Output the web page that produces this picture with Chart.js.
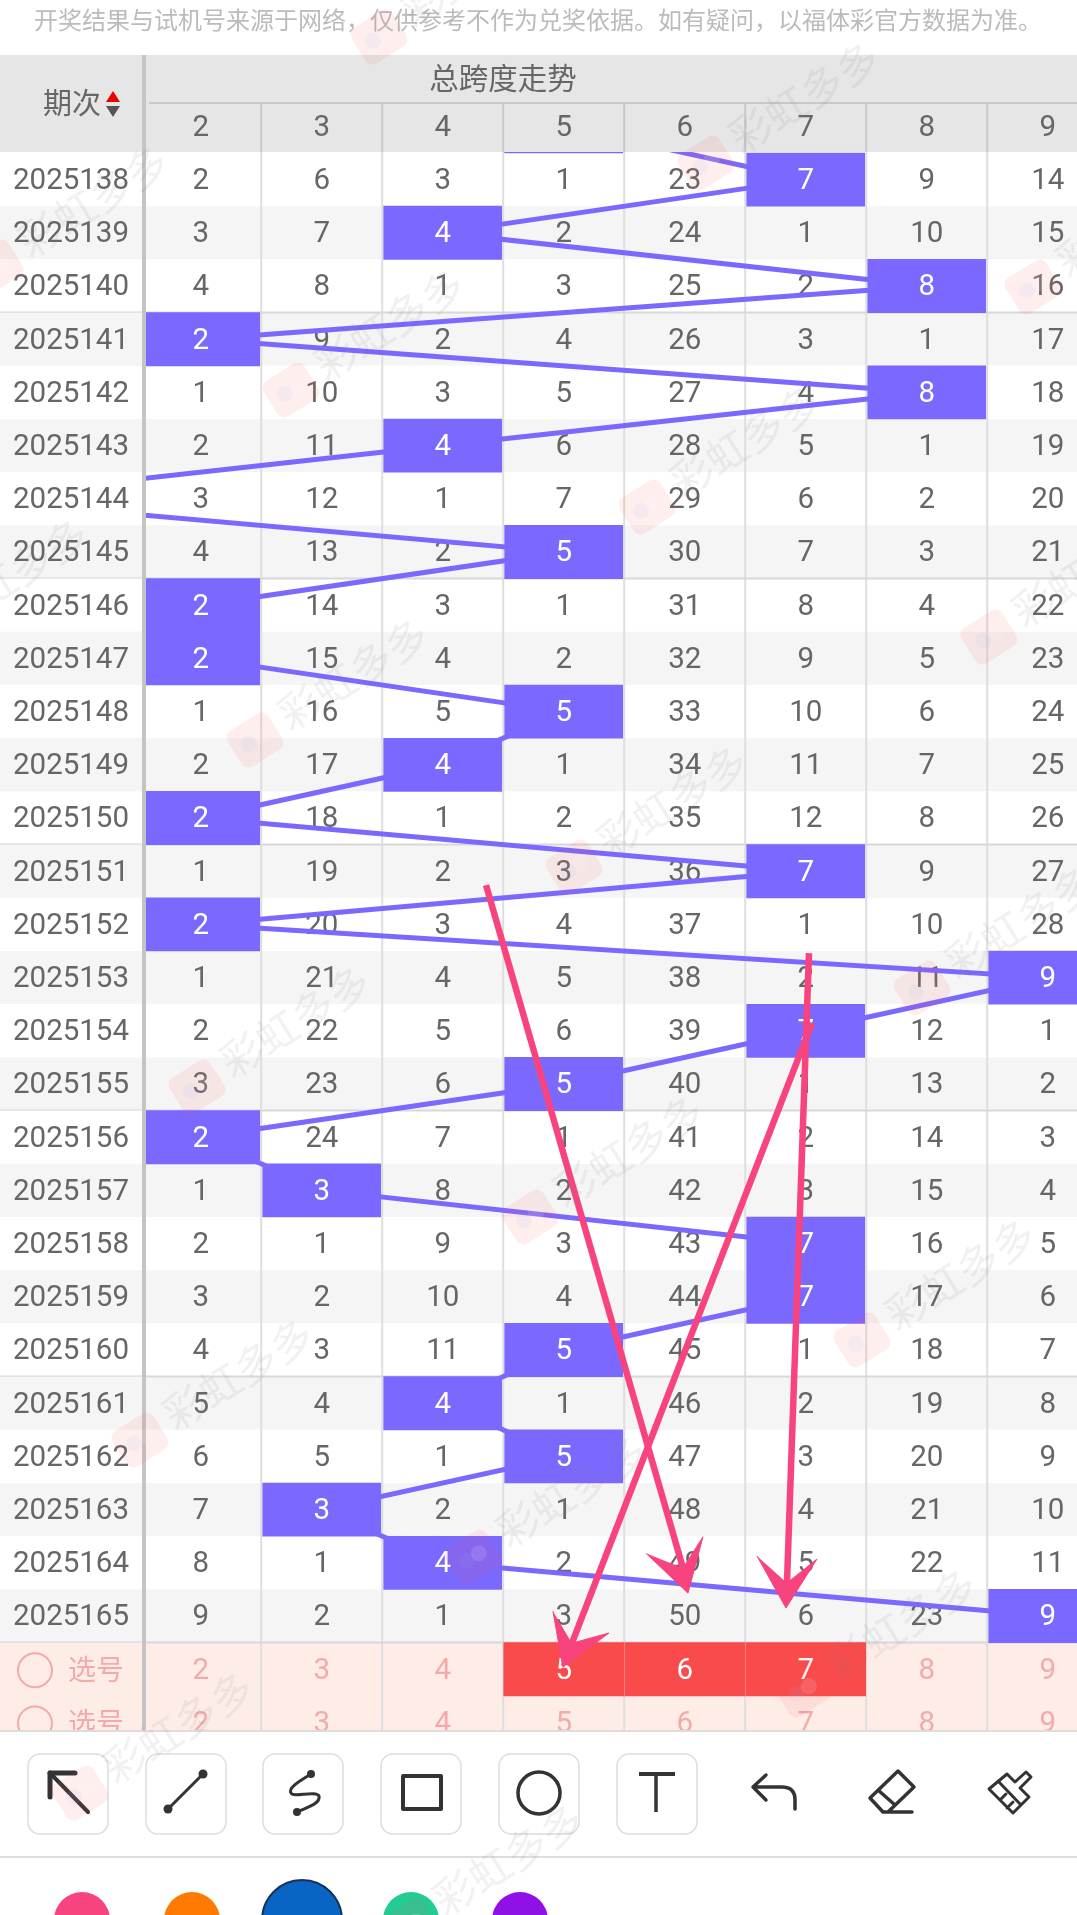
<!DOCTYPE html>
<html>
<head>
<meta charset="utf-8">
<title>总跨度走势</title>
<script src="https://cdn.jsdelivr.net/npm/chart.js@4/dist/chart.umd.min.js"></script>
<style>
  html, body { margin: 0; padding: 0; background: #fff; }
  canvas { display: block; }
</style>
</head>
<body>
<canvas id="trend" width="1077" height="1915"></canvas>
<script>
// Data
const notice = '开奖结果与试机号来源于网络，仅供参考不作为兑奖依据。如有疑问，以福体彩官方数据为准。';
const title = '总跨度走势';
const spans = [2, 3, 4, 5, 6, 7, 8, 9];
const periods = [2025138, 2025139, 2025140, 2025141, 2025142, 2025143, 2025144, 2025145, 2025146, 2025147,
  2025148, 2025149, 2025150, 2025151, 2025152, 2025153, 2025154, 2025155, 2025156, 2025157,
  2025158, 2025159, 2025160, 2025161, 2025162, 2025163, 2025164, 2025165];
const missing2 = [2, 3, 4, 2, 1, 2, 3, 4, 2, 2, 1, 2, 2, 1, 2, 1, 2, 3, 2, 1, 2, 3, 4, 5, 6, 7, 8, 9];
const missing3 = [6, 7, 8, 9, 10, 11, 12, 13, 14, 15, 16, 17, 18, 19, 20, 21, 22, 23, 24, 3, 1, 2, 3, 4, 5, 3, 1, 2];
const missing4 = [3, 4, 1, 2, 3, 4, 1, 2, 3, 4, 5, 4, 1, 2, 3, 4, 5, 6, 7, 8, 9, 10, 11, 4, 1, 2, 4, 1];
const missing5 = [1, 2, 3, 4, 5, 6, 7, 5, 1, 2, 5, 1, 2, 3, 4, 5, 6, 5, 1, 2, 3, 4, 5, 1, 5, 1, 2, 3];
const missing6 = [23, 24, 25, 26, 27, 28, 29, 30, 31, 32, 33, 34, 35, 36, 37, 38, 39, 40, 41, 42, 43, 44, 45, 46, 47, 48, 49, 50];
const missing7 = [7, 1, 2, 3, 4, 5, 6, 7, 8, 9, 10, 11, 12, 7, 1, 2, 7, 1, 2, 3, 7, 7, 1, 2, 3, 4, 5, 6];
const missing8 = [9, 10, 8, 1, 8, 1, 2, 3, 4, 5, 6, 7, 8, 9, 10, 11, 12, 13, 14, 15, 16, 17, 18, 19, 20, 21, 22, 23];
const missing9 = [14, 15, 16, 17, 18, 19, 20, 21, 22, 23, 24, 25, 26, 27, 28, 9, 1, 2, 3, 4, 5, 6, 7, 8, 9, 10, 11, 9];
const missing = [missing2, missing3, missing4, missing5, missing6, missing7, missing8, missing9];
// drawn span per period; 2025137 hides under the header and 2025144 (span 0) is scrolled off to the left
const drawnPeriods = [2025137].concat(periods);
const drawnSpans = [5, 7, 4, 8, 2, 8, 4, 0, 5, 2, 2, 5, 4, 2, 7, 2, 9, 7, 5, 2, 3, 7, 7, 5, 4, 5, 3, 4, 9];
const pickPeriods = [2025166, 2025167];
const pickedSpans = [5, 6, 7];

// Pink hand drawn arrows, in [span, period] units
const arrowShaft1 = [[4.358, 2025151.26], [5.986, 2025164.1]];
const arrowHead1 = [[5.68, 2025163.82], [6.027, 2025164.57], [6.151, 2025163.51], [5.986, 2025164.1]];
const arrowShaft2 = [[7.027, 2025152.54], [6.845, 2025164.38]];
const arrowHead2 = [[6.597, 2025163.87], [6.837, 2025164.85], [7.093, 2025163.93], [6.845, 2025164.38]];
const arrowShaft3 = [[7.052, 2025153.85], [5.068, 2025165.51]];
const arrowHead3 = [[4.911, 2025164.91], [4.993, 2025165.96], [5.374, 2025165.32], [5.068, 2025165.51]];

// Watermark icon spots in page pixels
const watermarks = [[379, 37], [706, 163], [-5, 267], [1033, 287], [291, 390], [647, 507], [-85, 640], [989, 637],
  [255, 740], [574, 867], [922, 988], [197, 1087], [530, 1217], [862, 1340], [140, 1440], [473, 1557],
  [803, 1690], [80, 1793], [410, 1925]];

const PURPLE = '#7B68FF';
const RED = '#F94B4B';
const PINK = '#F8447E';
const DIGITS = '29.5px Roboto, sans-serif';
const CJK = '"Noto Sans CJK SC", sans-serif';

function toPoints(pairs) {
  return pairs.map(p => ({ x: p[0], y: p[1] }));
}

function text(ctx, str, x, y, color, font) {
  ctx.fillStyle = color;
  ctx.font = font || DIGITS;
  ctx.textAlign = 'center';
  ctx.textBaseline = 'middle';
  ctx.fillText(str, x, y);
}

function line(ctx, x1, y1, x2, y2, color, width) {
  ctx.strokeStyle = color;
  ctx.lineWidth = width;
  ctx.beginPath();
  ctx.moveTo(x1, y1);
  ctx.lineTo(x2, y2);
  ctx.stroke();
}

function roundBox(ctx, x, y, w, h, r) {
  ctx.beginPath();
  ctx.roundRect(x, y, w, h, r);
}

function rowHeight(y) {
  return y.getPixelForValue(periods[1]) - y.getPixelForValue(periods[0]);
}

// Bands, grid and the plain numbers sit under the trend line
function drawTable(chart) {
  const { ctx, scales: { x, y } } = chart;
  const rowH = rowHeight(y);
  const w = chart.width;
  ctx.save();
  periods.forEach((p, i) => {
    ctx.fillStyle = i % 2 ? '#F5F5F5' : '#FFFFFF';
    ctx.fillRect(0, y.getPixelForValue(p) - rowH / 2, w, rowH);
  });
  const zoneTop = y.getPixelForValue(pickPeriods[0]) - rowH / 2;
  ctx.fillStyle = '#FEEDE7';
  ctx.fillRect(0, zoneTop, w, 1731 - zoneTop);

  spans.forEach(s => {
    const xr = x.getPixelForValue(s + 0.5);
    line(ctx, xr, 152, xr, 1731, '#DEDEDE', 2);
  });
  periods.forEach((p, i) => {
    if (i % 5 === 2) {
      const yb = y.getPixelForValue(p) + rowH / 2;
      line(ctx, 0, yb, w, yb, '#D8D8D8', 2);
    }
  });

  ctx.save();
  ctx.beginPath();
  ctx.rect(0, 0, w, 1731);
  ctx.clip();
  spans.forEach((s, c) => {
    periods.forEach((p, i) => {
      if (drawnSpans[i + 1] !== s) text(ctx, missing[c][i], x.getPixelForValue(s), y.getPixelForValue(p) + 2, '#666666');
    });
    pickPeriods.forEach(p => {
      text(ctx, s, x.getPixelForValue(s), y.getPixelForValue(p) + 2, '#F5A9A9');
    });
  });
  ctx.restore();
  ctx.restore();
}

// White digits on the filled cells, then the frozen left column and header on top
function drawFrozen(chart) {
  const { ctx, scales: { x, y } } = chart;
  const rowH = rowHeight(y);
  ctx.save();
  periods.forEach((p, i) => {
    text(ctx, drawnSpans[i + 1], x.getPixelForValue(drawnSpans[i + 1]), y.getPixelForValue(p) + 2, '#FFFFFF');
  });
  pickedSpans.forEach(s => {
    text(ctx, s, x.getPixelForValue(s), y.getPixelForValue(pickPeriods[0]) + 2, '#FFFFFF');
  });

  // left column
  periods.forEach((p, i) => {
    const yc = y.getPixelForValue(p);
    ctx.fillStyle = i % 2 ? '#F5F5F5' : '#FFFFFF';
    ctx.fillRect(0, yc - rowH / 2, 142, rowH);
    if (i % 5 === 2) line(ctx, 0, yc + rowH / 2, 142, yc + rowH / 2, '#D8D8D8', 2);
    text(ctx, p, 71, yc + 2, '#666666');
  });
  const zoneTop = y.getPixelForValue(pickPeriods[0]) - rowH / 2;
  ctx.fillStyle = '#FEEDE7';
  ctx.fillRect(0, zoneTop, 142, 1731 - zoneTop);
  ctx.save();
  ctx.beginPath();
  ctx.rect(0, 0, 146, 1731);
  ctx.clip();
  pickPeriods.forEach(p => {
    const yc = y.getPixelForValue(p);
    ctx.strokeStyle = '#F5A9A9';
    ctx.lineWidth = 2;
    ctx.beginPath();
    ctx.arc(35, yc + 1, 17, 0, Math.PI * 2);
    ctx.stroke();
    text(ctx, '选号', 96, yc, '#F5A9A9', '28px ' + CJK);
  });
  ctx.restore();
  ctx.fillStyle = '#C4C4C4';
  ctx.fillRect(142, 55, 4, 1676);

  // header
  ctx.fillStyle = '#E6E6E6';
  ctx.fillRect(0, 55, 142, 97);
  ctx.fillRect(146, 55, chart.width - 146, 97);
  line(ctx, 149, 103, chart.width, 103, '#C8C8C8', 2);
  text(ctx, title, 503, 78, '#666666', '29.5px ' + CJK);
  text(ctx, '期次', 72, 103, '#666666', '29px ' + CJK);
  ctx.fillStyle = '#EE0000';
  ctx.beginPath();
  ctx.moveTo(113, 91); ctx.lineTo(120, 102); ctx.lineTo(106, 102);
  ctx.fill();
  ctx.fillStyle = '#555555';
  ctx.beginPath();
  ctx.moveTo(106, 106); ctx.lineTo(120, 106); ctx.lineTo(113, 117);
  ctx.fill();
  spans.forEach(s => {
    text(ctx, s, x.getPixelForValue(s), 129, '#666666');
    const xr = x.getPixelForValue(s + 0.5);
    line(ctx, xr, 104, xr, 152, '#C8C8C8', 2);
  });

  // purple edge of the hidden 2025137 cell shows under the header
  ctx.fillStyle = PURPLE;
  ctx.fillRect(x.getPixelForValue(drawnSpans[0]) - 59, 152, 118, 1);

  // top notice
  ctx.fillStyle = '#FFFFFF';
  ctx.fillRect(0, 0, chart.width, 55);
  ctx.textAlign = 'left';
  ctx.textBaseline = 'middle';
  ctx.font = '24px ' + CJK;
  ctx.fillStyle = '#BBBBBB';
  ctx.fillText(notice, 34, 20);
  ctx.restore();
}

function drawToolbar(chart) {
  const ctx = chart.ctx;
  ctx.save();
  ctx.fillStyle = '#FFFFFF';
  ctx.fillRect(0, 1731, chart.width, chart.height - 1731);
  line(ctx, 0, 1731, chart.width, 1731, '#DDDDDD', 2);
  line(ctx, 0, 1857, chart.width, 1857, '#DDDDDD', 2);

  [28, 146, 263, 381, 499, 617].forEach(bx => {
    ctx.strokeStyle = '#DDDDDD';
    ctx.lineWidth = 1.5;
    roundBox(ctx, bx, 1754, 80, 80, 12);
    ctx.stroke();
  });

  const ink = '#333333';
  ctx.strokeStyle = ink;
  ctx.fillStyle = ink;
  ctx.lineCap = 'round';
  ctx.lineJoin = 'round';

  // arrow
  line(ctx, 50, 1773, 88, 1812, ink, 4);
  line(ctx, 50, 1773, 75, 1773, ink, 5);
  line(ctx, 50, 1773, 50, 1797, ink, 5);
  // segment
  line(ctx, 168, 1809, 203, 1774, ink, 3);
  [[168, 1809], [203, 1774]].forEach(d => {
    ctx.beginPath();
    ctx.arc(d[0], d[1], 4.5, 0, Math.PI * 2);
    ctx.fill();
  });
  // squiggle
  ctx.lineWidth = 3;
  ctx.beginPath();
  ctx.moveTo(311, 1774);
  ctx.bezierCurveTo(298, 1782, 288, 1788, 291, 1793);
  ctx.bezierCurveTo(293, 1798, 316, 1790, 319, 1796);
  ctx.bezierCurveTo(321, 1804, 305, 1808, 297, 1812);
  ctx.stroke();
  [[311, 1774], [297, 1812]].forEach(d => {
    ctx.beginPath();
    ctx.arc(d[0], d[1], 4, 0, Math.PI * 2);
    ctx.fill();
  });
  // rectangle
  ctx.lineCap = 'butt';
  ctx.lineWidth = 4;
  ctx.strokeRect(403, 1776, 38, 33);
  // circle
  ctx.lineWidth = 3.5;
  ctx.beginPath();
  ctx.arc(539, 1793, 21, 0, Math.PI * 2);
  ctx.stroke();
  // text tool
  line(ctx, 639, 1774, 675, 1774, ink, 4);
  line(ctx, 656, 1774, 656, 1812, ink, 3.5);
  // undo
  ctx.lineCap = 'round';
  ctx.lineWidth = 3.5;
  ctx.beginPath();
  ctx.moveTo(766, 1775); ctx.lineTo(753, 1787); ctx.lineTo(766, 1800);
  ctx.moveTo(753, 1787); ctx.lineTo(782, 1787);
  ctx.quadraticCurveTo(795, 1787, 795, 1800);
  ctx.lineTo(795, 1809);
  ctx.stroke();
  // eraser
  ctx.lineWidth = 3.5;
  ctx.beginPath();
  ctx.moveTo(898, 1771); ctx.lineTo(914, 1787); ctx.lineTo(888, 1812);
  ctx.lineTo(883, 1812); ctx.lineTo(870, 1798); ctx.closePath();
  ctx.moveTo(878, 1790); ctx.lineTo(895, 1805);
  ctx.moveTo(883, 1812); ctx.lineTo(912, 1812);
  ctx.stroke();
  // broom
  ctx.lineWidth = 3;
  ctx.beginPath();
  ctx.moveTo(1007, 1774); ctx.lineTo(1015, 1782); ctx.lineTo(1026, 1772); ctx.lineTo(1031, 1777);
  ctx.lineTo(1020, 1788); ctx.lineTo(1029, 1797); ctx.lineTo(1013, 1813); ctx.lineTo(989, 1789);
  ctx.closePath();
  ctx.moveTo(998, 1781); ctx.lineTo(1021, 1805);
  ctx.moveTo(1000, 1800); ctx.lineTo(1006, 1794);
  ctx.moveTo(1007, 1808); ctx.lineTo(1013, 1802);
  ctx.stroke();

  // colour swatches, cut off by the page bottom
  [[82, 28, '#F8447E'], [192, 28, '#FF7A00'], [411, 28, '#22CC94'], [520, 28, '#9010E8']].forEach(c => {
    ctx.fillStyle = c[2];
    ctx.beginPath();
    ctx.arc(c[0], 1920, c[1], 0, Math.PI * 2);
    ctx.fill();
  });
  ctx.fillStyle = '#0A64C4';
  ctx.strokeStyle = '#16305A';
  ctx.lineWidth = 2;
  ctx.beginPath();
  ctx.arc(302, 1920, 40, 0, Math.PI * 2);
  ctx.fill();
  ctx.stroke();
  ctx.restore();
}

function drawWatermarks(chart) {
  const ctx = chart.ctx;
  ctx.save();
  watermarks.forEach(m => {
    ctx.save();
    ctx.translate(m[0], m[1]);
    ctx.rotate(-32 * Math.PI / 180);
    ctx.fillStyle = 'rgba(250, 90, 90, 0.1)';
    roundBox(ctx, -24, -21, 48, 42, 8);
    ctx.fill();
    ctx.fillStyle = 'rgba(140, 190, 245, 0.09)';
    ctx.beginPath();
    ctx.arc(-7, 0, 8, 0, Math.PI * 2);
    ctx.fill();
    ctx.fillStyle = 'rgba(255, 255, 255, 0.12)';
    ctx.beginPath();
    ctx.arc(7, 0, 8, 0, Math.PI * 2);
    ctx.fill();
    ctx.fillStyle = 'rgba(130, 130, 130, 0.11)';
    ctx.font = '42px ' + CJK;
    ctx.textAlign = 'left';
    ctx.textBaseline = 'middle';
    ctx.fillText('彩虹多多', 34, -4);
    ctx.restore();
  });
  ctx.restore();
}

const tablePlugin = {
  id: 'table',
  beforeDatasetsDraw(chart) {
    drawTable(chart);
  },
  afterDatasetDraw(chart, args) {
    if (args.index === 2) drawFrozen(chart);
  },
  afterDatasetsDraw(chart) {
    drawToolbar(chart);
    drawWatermarks(chart);
  }
};

function arrowDataset(points, isHead) {
  return {
    type: 'line',
    data: toPoints(points),
    borderColor: PINK,
    backgroundColor: PINK,
    borderWidth: isHead ? 1 : 6.5,
    pointRadius: 0,
    tension: 0,
    fill: isHead ? 'shape' : false,
    order: 1
  };
}

new Chart(document.getElementById('trend'), {
  type: 'bar',
  data: {
    datasets: [
      {
        type: 'line',
        label: '走势线',
        data: drawnPeriods.map((p, i) => ({ x: drawnSpans[i], y: p })),
        borderColor: PURPLE,
        borderWidth: 5,
        pointRadius: 0,
        tension: 0,
        order: 4
      },
      {
        label: '开奖跨度',
        // span 0 is off screen, only the line goes there
        data: drawnPeriods.map((p, i) => ({ x: drawnSpans[i], y: [p - 0.5, p + 0.5] })).filter(d => d.x >= spans[0]),
        backgroundColor: PURPLE,
        barThickness: 118,
        grouped: false,
        order: 3
      },
      {
        label: '选号',
        data: pickedSpans.map(s => ({ x: s, y: [pickPeriods[0] - 0.5, pickPeriods[0] + 0.5] })),
        backgroundColor: RED,
        barThickness: 120,
        grouped: false,
        order: 2
      },
      arrowDataset(arrowShaft1), arrowDataset(arrowHead1, true),
      arrowDataset(arrowShaft2), arrowDataset(arrowHead2, true),
      arrowDataset(arrowShaft3), arrowDataset(arrowHead3, true)
    ]
  },
  options: {
    responsive: false,
    animation: false,
    events: [],
    layout: { padding: 0 },
    plugins: { legend: { display: false }, tooltip: { enabled: false } },
    scales: {
      x: { type: 'linear', min: 0.3413, max: 9.242, offset: false, display: false },
      y: { type: 'linear', min: 2025134.624, max: 2025170.62, reverse: true, display: false }
    }
  },
  plugins: [tablePlugin]
});
</script>
</body>
</html>
